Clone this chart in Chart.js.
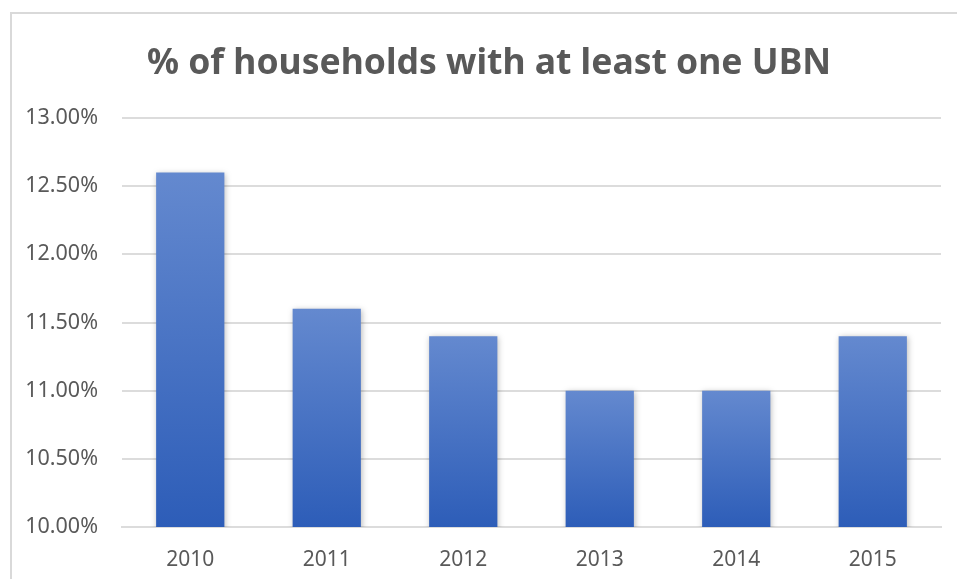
<!DOCTYPE html>
<html>
<head>
<meta charset="utf-8">
<script src="https://cdn.jsdelivr.net/npm/chart.js@4"></script>
<style>
  html, body { margin: 0; padding: 0; background: #fff; overflow: hidden; }
  #wrap { position: relative; width: 957px; height: 579px; }
  #frame { position: absolute; left: 10px; top: 12px; width: 980px; height: 600px; border: 2px solid #d9d9d9; box-sizing: border-box; }
  canvas { position: absolute; left: 0; top: 0; }
</style>
</head>
<body>
<div id="wrap">
  <div id="frame"></div>
  <canvas id="chart" width="957" height="579"></canvas>
</div>
<script>
/* ── Data ── */
const YEARS  = ['2010', '2011', '2012', '2013', '2014', '2015'];
const VALUES = [12.6, 11.6, 11.4, 11.0, 11.0, 11.4];
const TITLE  = '% of households with at least one UBN';

const TEXT = '#595959';
const GRID = '#dcdcdc';
const FONT = "'Noto Sans', 'Open Sans', sans-serif";

// per-bar vertical gradient, lighter at top
function barFill(ctx) {
  const chart = ctx.chart;
  const area = chart.chartArea;
  if (!area || ctx.parsed == null) return '#4472c4';
  const top = chart.scales.y.getPixelForValue(ctx.parsed.y);
  const g = chart.ctx.createLinearGradient(0, top, 0, area.bottom);
  g.addColorStop(0, '#6489cf');
  g.addColorStop(1, '#2d5db8');
  return g;
}

/* ── Soft shadow under bars ── */
const barShadow = {
  id: 'barShadow',
  beforeDatasetDraw(chart) {
    const c = chart.ctx;
    c.save();
    c.shadowColor = 'rgba(0,0,0,0.28)';
    c.shadowBlur = 6;
    c.shadowOffsetX = 1;
    c.shadowOffsetY = 1;
  },
  afterDatasetDraw(chart) { chart.ctx.restore(); }
};

/* ── Title, centred over the frame rather than the canvas ── */
const frameTitle = {
  id: 'frameTitle',
  afterDraw(chart) {
    const c = chart.ctx;
    c.save();
    c.font = `bold 35.5px ${FONT}`;
    c.fillStyle = TEXT;
    c.textAlign = 'center';
    c.textBaseline = 'alphabetic';
    c.fillText(TITLE, 489, 74);
    c.restore();
  }
};

new Chart(document.getElementById('chart'), {
  type: 'bar',
  data: {
    labels: YEARS,
    datasets: [{ data: VALUES, backgroundColor: barFill, borderWidth: 0, barPercentage: 0.5, categoryPercentage: 1 }]
  },
  options: {
    responsive: false,
    animation: false,
    layout: { padding: { left: 16, right: 16, top: 118, bottom: 0 } },
    plugins: {
      legend: { display: false },
      tooltip: { enabled: false },
      title: { display: false }
    },
    scales: {
      x: {
        grid: { display: false },
        border: { display: true, color: GRID, width: 2 },
        ticks: { color: TEXT, font: { family: FONT, size: 21 }, padding: 12 },
        afterFit(s) { s.height = 52; }
      },
      y: {
        min: 10, max: 13,
        grid: { color: GRID, lineWidth: 2, drawTicks: false },
        border: { display: false },
        ticks: {
          stepSize: 0.5,
          color: TEXT,
          font: { family: FONT, size: 21.5 },
          padding: 24,
          callback: v => v.toFixed(2) + '%'
        },
        afterFit(s) { s.width = 106; }
      }
    }
  },
  plugins: [barShadow, frameTitle]
});
</script>
</body>
</html>
